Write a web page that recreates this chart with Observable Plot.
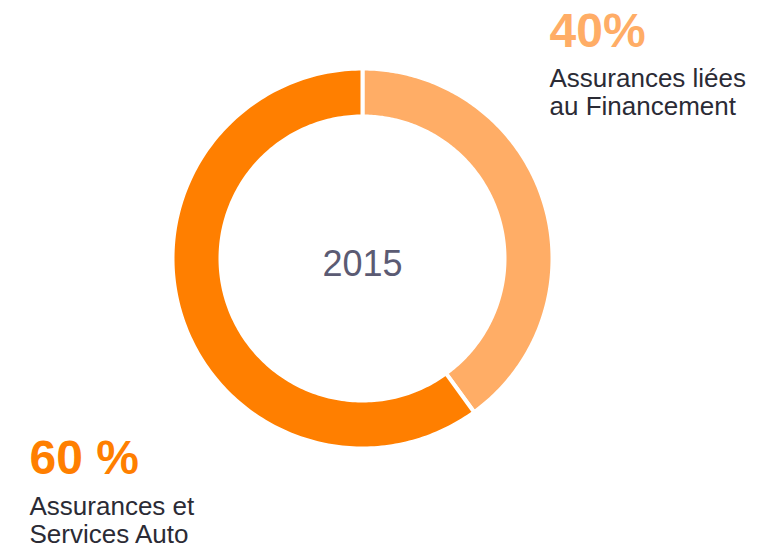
<!DOCTYPE html>
<html>
<head>
<meta charset="utf-8">
<script src="https://cdn.jsdelivr.net/npm/d3@7"></script>
<script src="https://cdn.jsdelivr.net/npm/@observablehq/plot@0.6"></script>
<style>
  html, body { margin: 0; padding: 0; background: #ffffff; }
  #chart svg { display: block; }
</style>
</head>
<body>
<div id="chart"></div>
<script>
// ---- data ----
const categories = ["Assurances liées\nau Financement", "Assurances et\nServices Auto"];
const values = [40, 60];
const percentLabels = ["40%", "60 %"];
const centerLabel = "2015";

// ---- styles / layout ----
const colors = ["#FFAD66", "#FF7F00"];
const W = 779, H = 549;
const cx = 362, cy = 258, R = 188, rInner = 144, gap = 4;
const font = "Liberation Sans, Arial, Helvetica, sans-serif";

// convert pixel to data units (radius = 1)
const px = (p) => (p - cx) / R;
const py = (p) => (cy - p) / R;

const pie = d3.pie().sort(null).value(d => d)(values);
const outerU = (R + gap / 2) / R, innerU = (rInner - gap / 2) / R;
const arcPts = [];
pie.forEach((s, i) => {
  const n = 200;
  const pts = [];
  for (let k = 0; k <= n; k++) {
    const a = s.startAngle + (s.endAngle - s.startAngle) * k / n;
    pts.push([outerU * Math.sin(a), outerU * Math.cos(a)]);
  }
  for (let k = n; k >= 0; k--) {
    const a = s.startAngle + (s.endAngle - s.startAngle) * k / n;
    pts.push([innerU * Math.sin(a), innerU * Math.cos(a)]);
  }
  pts.push(pts[0]);
  pts.forEach(p => arcPts.push({x: p[0], y: p[1], key: i}));
});

const labelPos = [
  {pctX: 549, pctY: 46, txtX: 549, txtY: 114},
  {pctX: 29, pctY: 473, txtX: 29, txtY: 542}
];
const pctData = percentLabels.map((t, i) => ({t, x: px(labelPos[i].pctX), y: py(labelPos[i].pctY), c: colors[i]}));
const txtData = categories.map((t, i) => ({t, x: px(labelPos[i].txtX), y: py(labelPos[i].txtY)}));

const chart = Plot.plot({
  width: W, height: H,
  margin: 0,
  style: {fontFamily: font, background: "#ffffff"},
  x: {domain: [px(0), px(W)], axis: null},
  y: {domain: [py(H), py(0)], axis: null},
  marks: [
    ...pie.map((s, i) => Plot.line(arcPts.filter(d => d.key === i), {
      x: "x", y: "y", fill: colors[i], stroke: "#ffffff", strokeWidth: gap, curve: "linear"
    })),
    Plot.text([centerLabel], {
      x: [0], y: [py(275)], text: d => d, lineAnchor: "bottom", textAnchor: "middle",
      fontSize: 36, fill: "#5B5B73"
    }),
    ...pctData.map(d => Plot.text([d], {
      x: "x", y: "y", text: "t", lineAnchor: "bottom", textAnchor: "start",
      fontSize: 48, fontWeight: "bold", fill: d.c
    })),
    Plot.text(txtData, {
      x: "x", y: "y", text: "t", lineAnchor: "bottom", textAnchor: "start",
      fontSize: 26, lineHeight: 1.06, fill: "#2B2B35"
    })
  ]
});
document.getElementById("chart").appendChild(chart);
</script>
</body>
</html>
